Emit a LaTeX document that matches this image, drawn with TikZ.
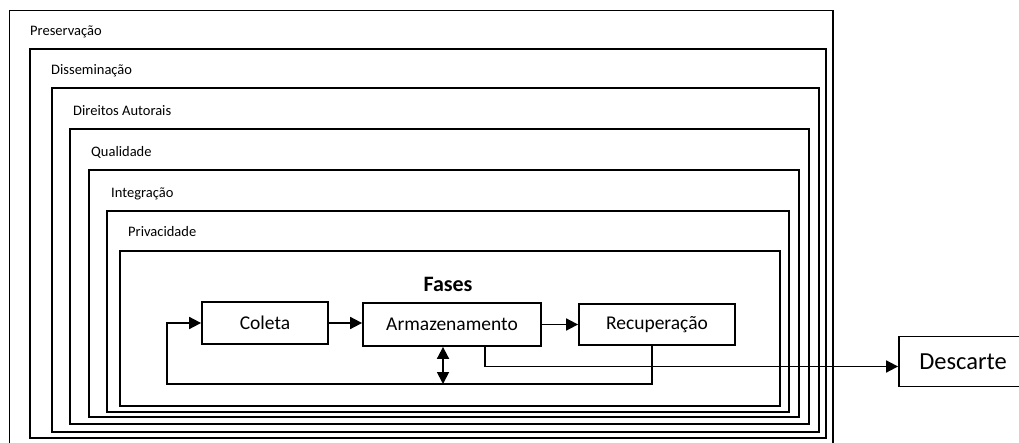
\documentclass[tikz,border=0pt]{standalone}
\usepackage{fontspec}
\setmainfont{Carlito}
\usetikzlibrary{arrows.meta,calc}
\begin{document}
\begin{tikzpicture}[x=1pt,y=-1pt,
  frame/.style={draw,line width=1.8pt},
  lab/.style={anchor=base west,inner sep=0pt,font=\fontsize{14.5}{17}\selectfont},
  phase/.style={draw,line width=1.8pt,inner sep=0pt,font=\fontsize{19.5}{23}\selectfont},
  conn/.style={line width=1.8pt},
  tip/.style={-{Triangle[length=12pt,width=12pt]}},
  dtip/.style={{Triangle[length=12pt,width=12pt]}-{Triangle[length=12pt,width=12pt]}}
]
\clip (0,0) rectangle (1019,443);
\fill[white] (0,0) rectangle (1019,443);
% nested frames
\draw[frame] (9.5,10.5) rectangle (833,452);
\draw[frame] (30,49) rectangle (826,438);
\draw[frame] (52,88) rectangle (819,432);
\draw[frame] (70,129) rectangle (809,424);
\draw[frame] (89,170) rectangle (799,417);
\draw[frame] (107,211) rectangle (789,412);
\draw[frame] (120,251) rectangle (780,406);
% frame labels
\node[lab] (lpres) at (30,36) {Preservação};
\node[lab] (ldiss) at (51,75) {Disseminação};
\node[lab] (ldir) at (73,116) {Direitos Autorais};
\node[lab] (lqual) at (91,157) {Qualidade};
\node[lab] (linteg) at (111,198) {Integração};
\node[lab] (lpriv) at (128,237) {Privacidade};
% phases
\node[font=\bfseries\fontsize{22}{26}\selectfont] (fases) at (448,284) {Fases};
\node[phase,minimum width=126pt,minimum height=42pt] (col) at (265,323) {Coleta};
\node[phase,minimum width=178pt,minimum height=43pt] (arm) at (452,324.5) {Armazenamento};
\node[phase,minimum width=156pt,minimum height=41pt] (rec) at (657,324.5) {Recuperação};
\node[draw,line width=1.8pt,inner sep=0pt,minimum width=128pt,minimum height=50pt,
      font=\fontsize{24.5}{29}\selectfont] (desc) at (963,361.5) {Descarte};
% connectors
\draw[conn,tip] (col.east) -- (col.east -| arm.west);
\draw[conn,tip] (arm.east) -- (arm.east -| rec.west);
\coordinate (rs) at ($(rec.south)+(-5,0)$);
\coordinate (loopR) at (652,384);
\coordinate (loopL) at (167,384);
\draw[conn,tip] (rs) -- (loopR) -- (loopL) |- (col.west);
\coordinate (da) at ($(arm.south)+(-9,0)$);
\draw[conn,dtip] (da) -- (da |- loopR);
\coordinate (as) at ($(arm.south)+(33,0)$);
\coordinate (dk) at (485,366.5);
\draw[conn,tip] (as) -- (dk) -- (dk -| desc.west);
\end{tikzpicture}
\end{document}
